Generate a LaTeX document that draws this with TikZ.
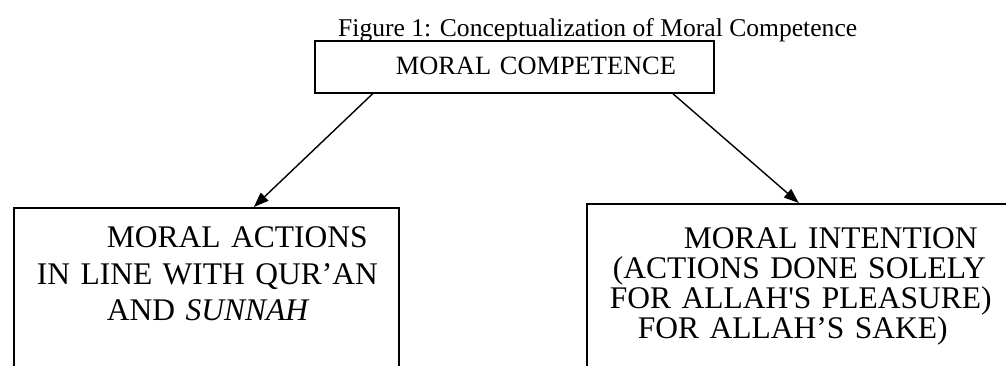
\documentclass[tikz,border=0pt]{standalone}
\usepackage{fontspec}
\setmainfont{Liberation Serif}
\usepackage{tikz}
\usetikzlibrary{positioning,arrows.meta}

\begin{document}
\begin{tikzpicture}[x=1pt, y=-1pt,
  box/.style={draw, line width=1.6pt, inner xsep=20pt, inner ysep=0pt, align=left, anchor=north west},
  link/.style={line width=1.4pt, -{Triangle[length=15pt, width=11pt]}}]
  \useasboundingbox (0,0) rectangle (1006,365);
  \clip (0,0) rectangle (1006,365);

  % Caption
  \node[anchor=base west, inner sep=0pt, font=\fontsize{25.6pt}{30pt}\selectfont] (title) at (338,36) {Figure 1: Conceptualization of Moral Competence};

  % Top box
  \node[box, text width=359pt, text height=34pt, text depth=18pt, font=\fontsize{26.4pt}{30pt}\selectfont] (competence) at (314,40) {\hspace*{61pt}MORAL COMPETENCE};

  % Left box (bottom runs off the page)
  \node[box, text width=345pt, text height=40pt, text depth=200pt, font=\fontsize{31.5pt}{36.5pt}\selectfont] (actions) at (13,207)
    {\hspace*{73pt}MORAL ACTIONS\\\hspace*{3pt}IN LINE WITH QUR’AN\\\hspace*{73pt}AND \textit{SUNNAH}};

  % Right box (right and bottom run off the page)
  \node[box, text width=420pt, text height=45pt, text depth=200pt, font=\fontsize{31.5pt}{30pt}\selectfont] (intention) at (586,203)
    {\hspace*{77pt}MORAL INTENTION\\\hspace*{6pt}(ACTIONS DONE SOLELY\\\hspace*{3pt}FOR ALLAH\textquotesingle S PLEASURE)\\\hspace*{31pt}FOR ALLAH’S SAKE)};

  % Arrows
  \draw[link] ([xshift=-141.5pt]competence.south) -- ([xshift=47.5pt]actions.north);
  \draw[link] ([xshift=158.5pt]competence.south) -- ([xshift=-18pt]intention.north);

\end{tikzpicture}
\end{document}
